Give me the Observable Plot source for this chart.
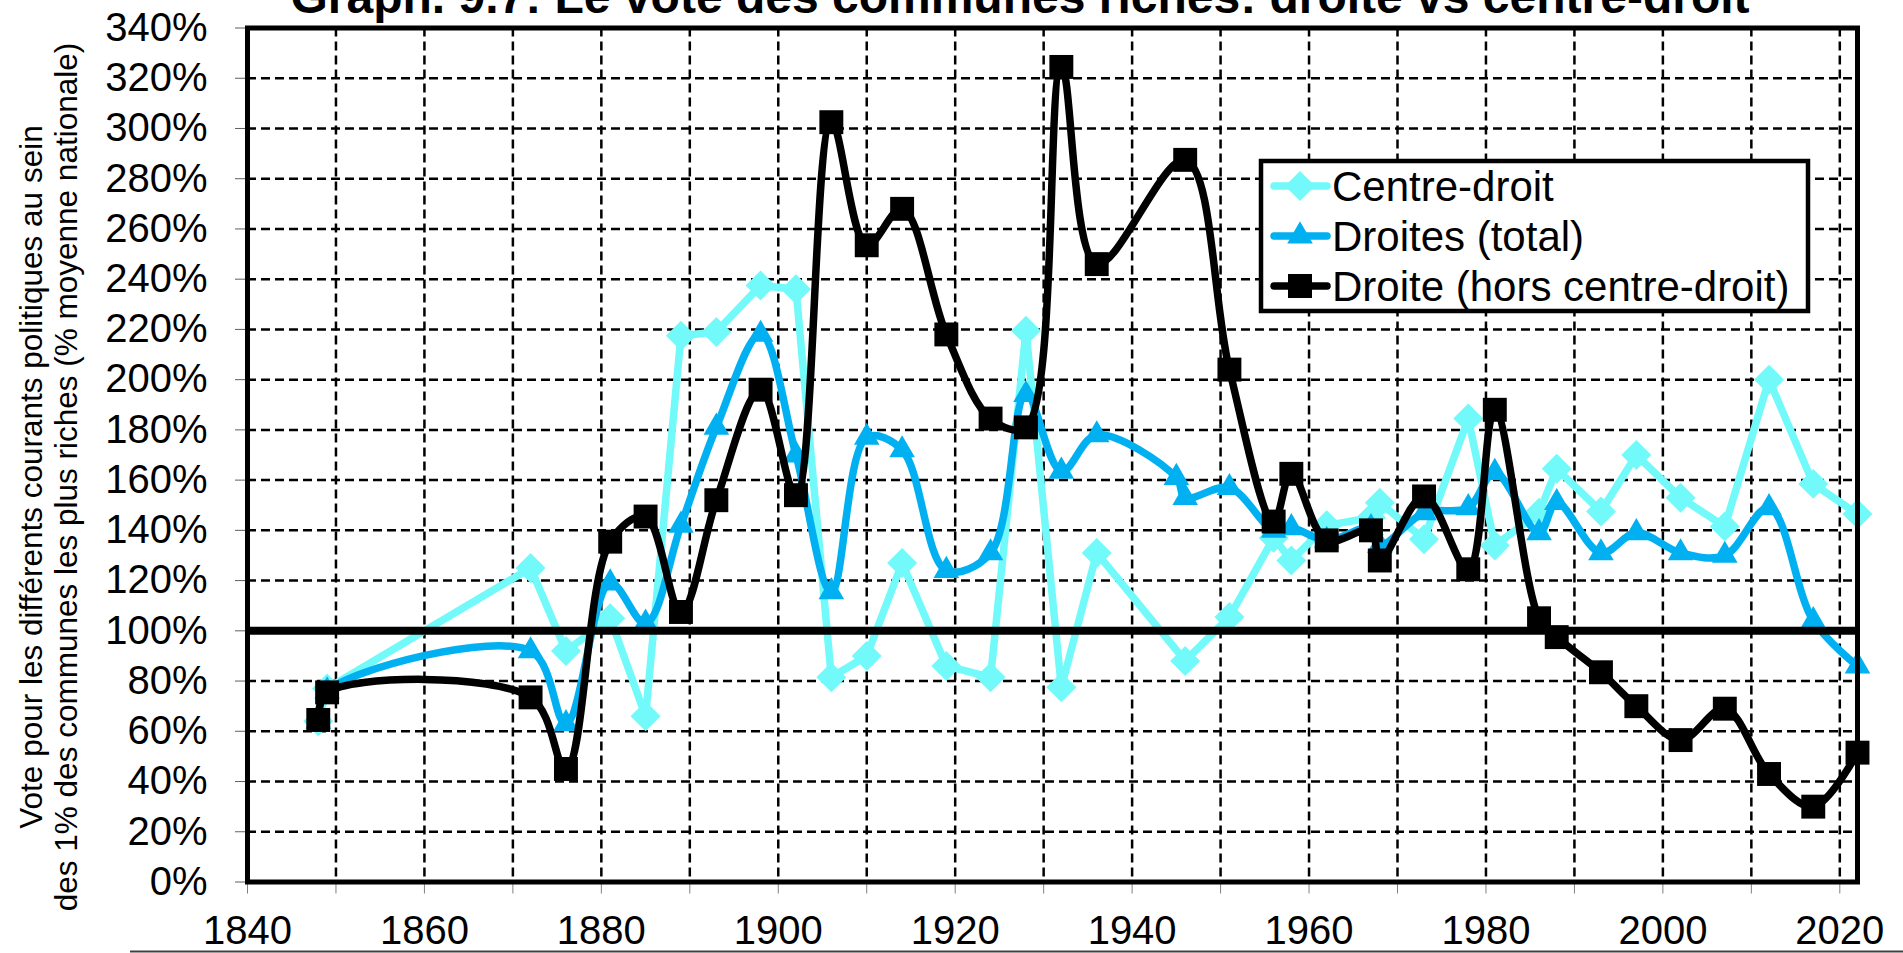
<!DOCTYPE html>
<html>
<head>
<meta charset="utf-8">
<script src="https://cdn.jsdelivr.net/npm/d3@7"></script>
<script src="https://cdn.jsdelivr.net/npm/@observablehq/plot@0.6"></script>
<style>
  html, body { margin: 0; padding: 0; background: white; overflow: hidden; }
  #wrap { position: relative; width: 1903px; height: 953px; }
  #title { position: absolute; left: 1020px; top: -26.6px; transform: translateX(-50%);
           white-space: nowrap; font: bold 48px "Liberation Sans", Arial, sans-serif; line-height: 48px; color: black; z-index: 2; }
  #chart { position: absolute; left: 0; top: 0; }
</style>
</head>
<body>
<div id="wrap">
  <div id="chart"></div>
  <div id="title">Graph. 9.7: Le vote des communes riches: droite vs centre-droit</div>
</div>
<script>
// ---- Data ----
const yearsCentre = [1848,1849,1872,1876,1881,1885,1889,1893,1898,1902,1906,1910,1914,1919,1924,1928,1932,1936,1946,1951,1956,1958,1962,1967,1968,1973,1978,1981,1986,1988,1993,1997,2002,2007,2012,2017,2022];
const centreDroit = [64,77,125,92,105,66,217.5,219,237.5,236,81.5,90,127,86,81.5,219.5,77.5,131,88,105.5,137,128,142,145,151,136.5,184.5,134,147,164.5,147.5,170,153,141.5,200,158.5,146.5];

const yearsDroites = [1848,1849,1872,1876,1881,1885,1889,1893,1898,1902,1906,1910,1914,1919,1924,1928,1932,1936,1945,1946,1951,1956,1958,1962,1967,1968,1973,1978,1981,1986,1988,1993,1997,2002,2007,2012,2017,2022];
const droitesTotal = [64,76,92,63,119,103,142,181,218,170,115.5,177,172,124,131,194,163.5,178,161,153,157,140,141,136,141,134,147,149,163,139,151,131,139,131,130,149,104,86];

const yearsHors = yearsCentre;
const droiteHors = [64.5,75.5,73.5,45,135.5,145.5,107.5,152,196,154,302.5,253.5,268,218,184.5,181,324.5,246,287.5,204,143.5,162.5,136,140,128,153.5,124.5,188,105,97.5,83.5,70,56.5,69,43,30,51.5];

const seriesNames = ["Centre-droit", "Droites (total)", "Droite (hors centre-droit)"];
const seriesColors = ["#72FAFA", "#00B0F0", "#000000"];
const xTicks = d3.range(1840, 2021, 10);
const yTicks = d3.range(0, 341, 20);
const referenceLevel = [100];

// ---- Build tables ----
const toRows = (years, vals) => years.map((y, i) => ({year: y, value: vals[i]}));
const cRows = toRows(yearsCentre, centreDroit);
const tRows = toRows(yearsDroites, droitesTotal);
const hRows = toRows(yearsHors, droiteHors);

const FONT = "'Liberation Sans', Arial, sans-serif";
const LW = 7.5;
const gridStyle = {stroke: "black", strokeOpacity: 1, strokeWidth: 2.5, strokeDasharray: "9,5"};

const plot = Plot.plot({
  width: 1903,
  height: 953,
  marginLeft: 247,
  marginRight: 46,
  marginTop: 27.5,
  marginBottom: 71.5,
  style: {fontFamily: FONT, fontSize: "40px", background: "white", color: "black", overflow: "visible"},
  x: {domain: [1840, 2022]},
  y: {domain: [0, 340]},
  marks: [
    Plot.gridX(xTicks.filter(d => d > 1840), gridStyle),
    Plot.gridY(yTicks.filter(d => d > 0 && d < 340), gridStyle),
    Plot.axisX({ticks: xTicks, tickFormat: d => d % 20 === 0 ? String(d) : "", tickSize: 12, tickPadding: 22,
                stroke: "#808080", fill: "black", fontSize: 40, label: null}),
    Plot.axisY({ticks: yTicks, tickFormat: d => d + "%", tickSize: 12, tickPadding: 28,
                stroke: "#606060", fill: "black", fontSize: 40, label: null}),
    // Centre-droit (straight segments)
    Plot.line(cRows, {x: "year", y: "value", stroke: seriesColors[0], strokeWidth: LW, strokeLinejoin: "round", strokeLinecap: "round"}),
    Plot.dot(cRows, {x: "year", y: "value", symbol: "diamond2", r: 13.5, fill: seriesColors[0], stroke: "none"}),
    // Droites (total) smoothed
    Plot.line(tRows, {x: "year", y: "value", curve: "catmull-rom", stroke: seriesColors[1], strokeWidth: LW, strokeLinejoin: "round", strokeLinecap: "round"}),
    Plot.dot(tRows, {x: "year", y: "value", symbol: "triangle", r: 9.5, fill: seriesColors[1], stroke: "none"}),
    // Droite (hors centre-droit) smoothed
    Plot.line(hRows, {x: "year", y: "value", curve: "catmull-rom", stroke: seriesColors[2], strokeWidth: LW, strokeLinejoin: "round", strokeLinecap: "round"}),
    Plot.dot(hRows, {x: "year", y: "value", symbol: "square", r: 13.5, fill: seriesColors[2], stroke: "none"}),
    // 100% reference
    Plot.ruleY(referenceLevel, {stroke: "black", strokeWidth: 8}),
    Plot.frame({stroke: "black", strokeWidth: 5}),
    // Y-axis title
    Plot.text(["Vote pour les différents courants politiques au sein\ndes 1% des communes les plus riches (% moyenne nationale)"],
      {frameAnchor: "left", dx: -199, dy: 22, rotate: -90, fontSize: 31.5, lineHeight: 1.1,
       textAnchor: "middle", lineAnchor: "middle", fill: "black"})
  ]
});

document.getElementById("chart").appendChild(plot);

// ---- Legend ----
const svg = d3.select(plot);
const lg = svg.append("g").attr("text-anchor", "start");
lg.append("rect").attr("x", 1261).attr("y", 161).attr("width", 547).attr("height", 150)
  .attr("fill", "white").attr("stroke", "black").attr("stroke-width", 4.5);
const syms = [
  d3.symbol(d3.symbolDiamond2, 574),
  d3.symbol(d3.symbolTriangle, 283),
  d3.symbol(d3.symbolSquare, 576)
];
seriesNames.forEach((name, i) => {
  const cy = 186 + 50 * i;
  lg.append("line").attr("x1", 1274).attr("x2", 1327).attr("y1", cy).attr("y2", cy)
    .attr("stroke", seriesColors[i]).attr("stroke-width", LW).attr("stroke-linecap", "round");
  lg.append("path").attr("d", syms[i]()).attr("transform", `translate(1300,${cy})`).attr("fill", seriesColors[i]);
  lg.append("text").attr("x", 1332).attr("y", cy + 15).attr("font-size", 42).attr("font-family", FONT)
    .attr("text-anchor", "start").attr("fill", "black").text(name);
});

// bottom page rule
svg.append("line").attr("x1", 130).attr("x2", 1903).attr("y1", 951.5).attr("y2", 951.5)
  .attr("stroke", "#404040").attr("stroke-width", 2);
</script>
</body>
</html>
